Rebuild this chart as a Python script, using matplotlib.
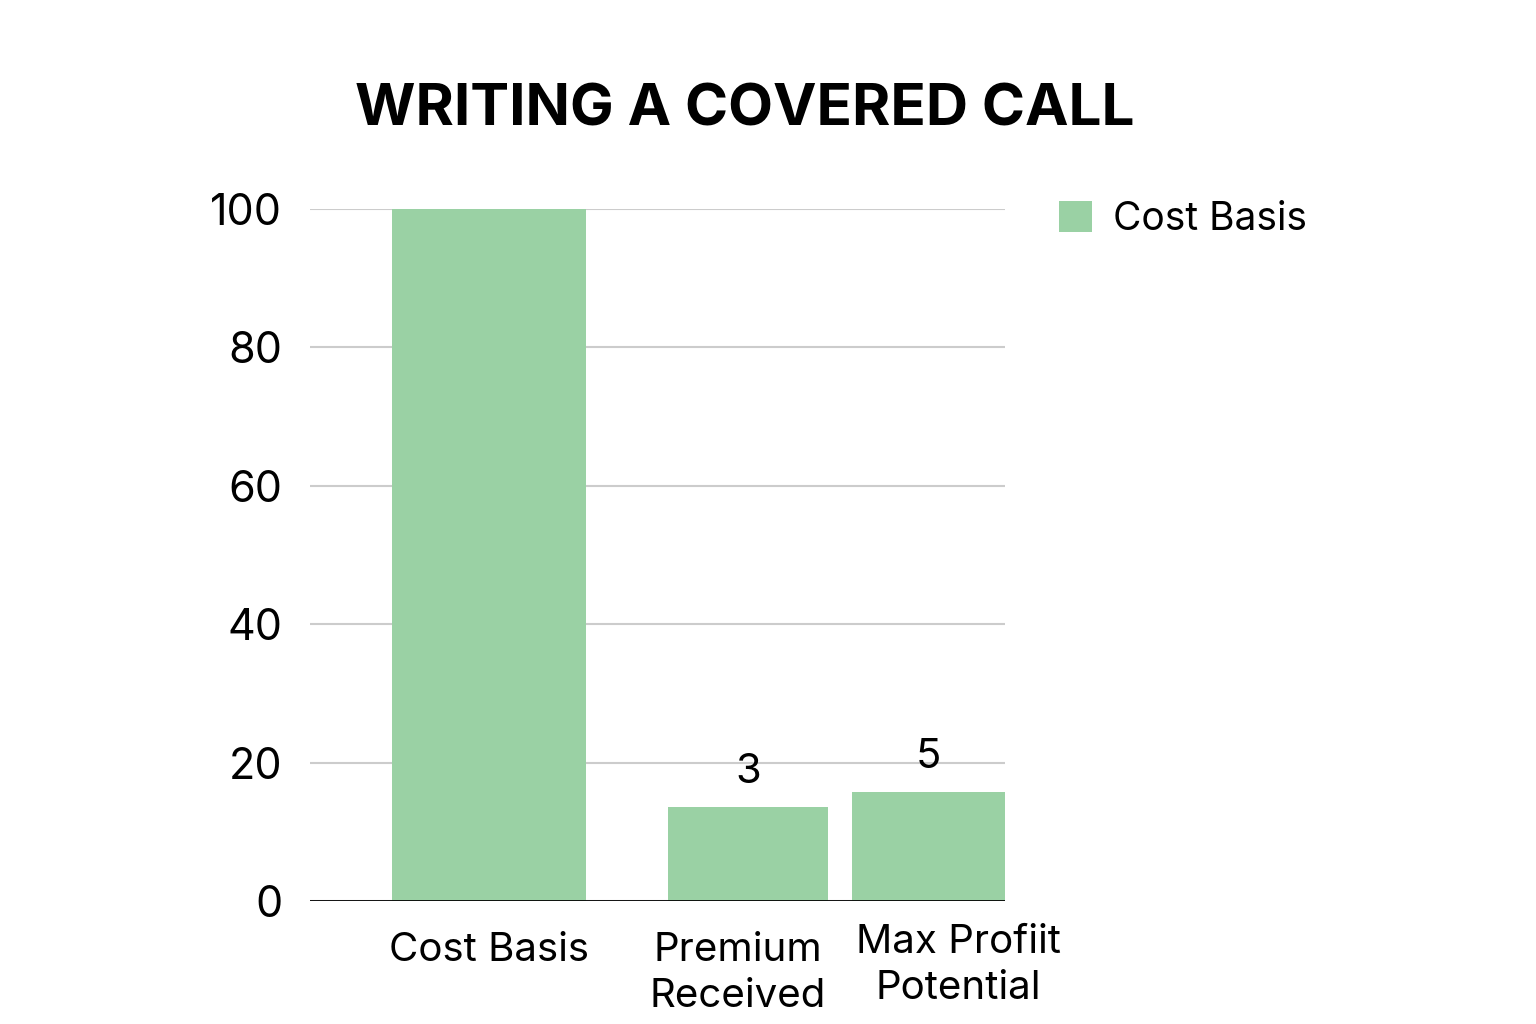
import matplotlib.pyplot as plt
from matplotlib.transforms import blended_transform_factory
from matplotlib.patches import FancyBboxPatch
from matplotlib.legend_handler import HandlerPatch

# dados do gráfico
categorias = ['Cost Basis', 'Premium\nReceived', 'Max Profiit\nPotential']
valores = [100, 13.6, 15.7]
rotulos = ['', '3', '5']
titulo = 'WRITING A COVERED CALL'
legenda = 'Cost Basis'
yticks = [0, 20, 40, 60, 80, 100]

# layout (posições em px do eixo)
centros = [489, 748, 928.5]
larguras = [194, 160, 153]
centros_texto = [489, 738, 958]
topo_texto = [932, 932, 924]

cor = '#9AD1A4'
plt.rcParams['font.family'] = ['Inter', 'DejaVu Sans']


class HandlerArredondado(HandlerPatch):
    def create_artists(self, legend, orig_handle, xdescent, ydescent,
                       width, height, fontsize, trans):
        p = FancyBboxPatch((-xdescent, -ydescent), width, height,
                           boxstyle='round,pad=0,rounding_size=4',
                           facecolor=cor, edgecolor='none', transform=trans)
        return [p]


fig = plt.figure(figsize=(15.36, 10.24), dpi=100)
ax = fig.add_axes([310 / 1536, 1 - 901 / 1024, 695 / 1536, 692 / 1024])
ax.set_xlim(310, 1005)
ax.set_ylim(0, 100)

barras = ax.bar(centros, valores, width=larguras, color=cor, zorder=2, label=legenda)
for b in barras[1:]:
    b.set_label('_nolegend_')

for i, r in enumerate(rotulos):
    if r:
        ax.text(centros[i], valores[i] + 2.3, r, ha='center', va='bottom',
                fontsize=30, color='black')

ax.set_yticks(yticks)
ax.set_yticklabels([str(t) for t in yticks], fontsize=31)
ax.tick_params(axis='y', length=0, pad=20)
ax.set_xticks([])
for s in ax.spines.values():
    s.set_visible(False)
ax.grid(axis='y', color='#cccccc', linewidth=1.5, zorder=0)
ax.axhline(0, color='black', linewidth=2, zorder=3)

trans = blended_transform_factory(ax.transData, fig.transFigure)
for c, t, txt in zip(centros_texto, topo_texto, categorias):
    ax.text(c, 1 - t / 1024, txt, transform=trans, ha='center', va='top',
            fontsize=29, linespacing=1.3)

fig.text(745 / 1536, 1 - 110 / 1024, titulo, ha='center', va='center',
         fontsize=42, fontweight='bold')

fig.legend(loc='upper left', bbox_to_anchor=(1024 / 1536, 1 - 166 / 1024),
           frameon=False, fontsize=28, handlelength=0.85, handleheight=0.85,
           handletextpad=0.55,
           handler_map={barras.patches[0]: HandlerArredondado()})

plt.savefig('out.png', dpi=100)
